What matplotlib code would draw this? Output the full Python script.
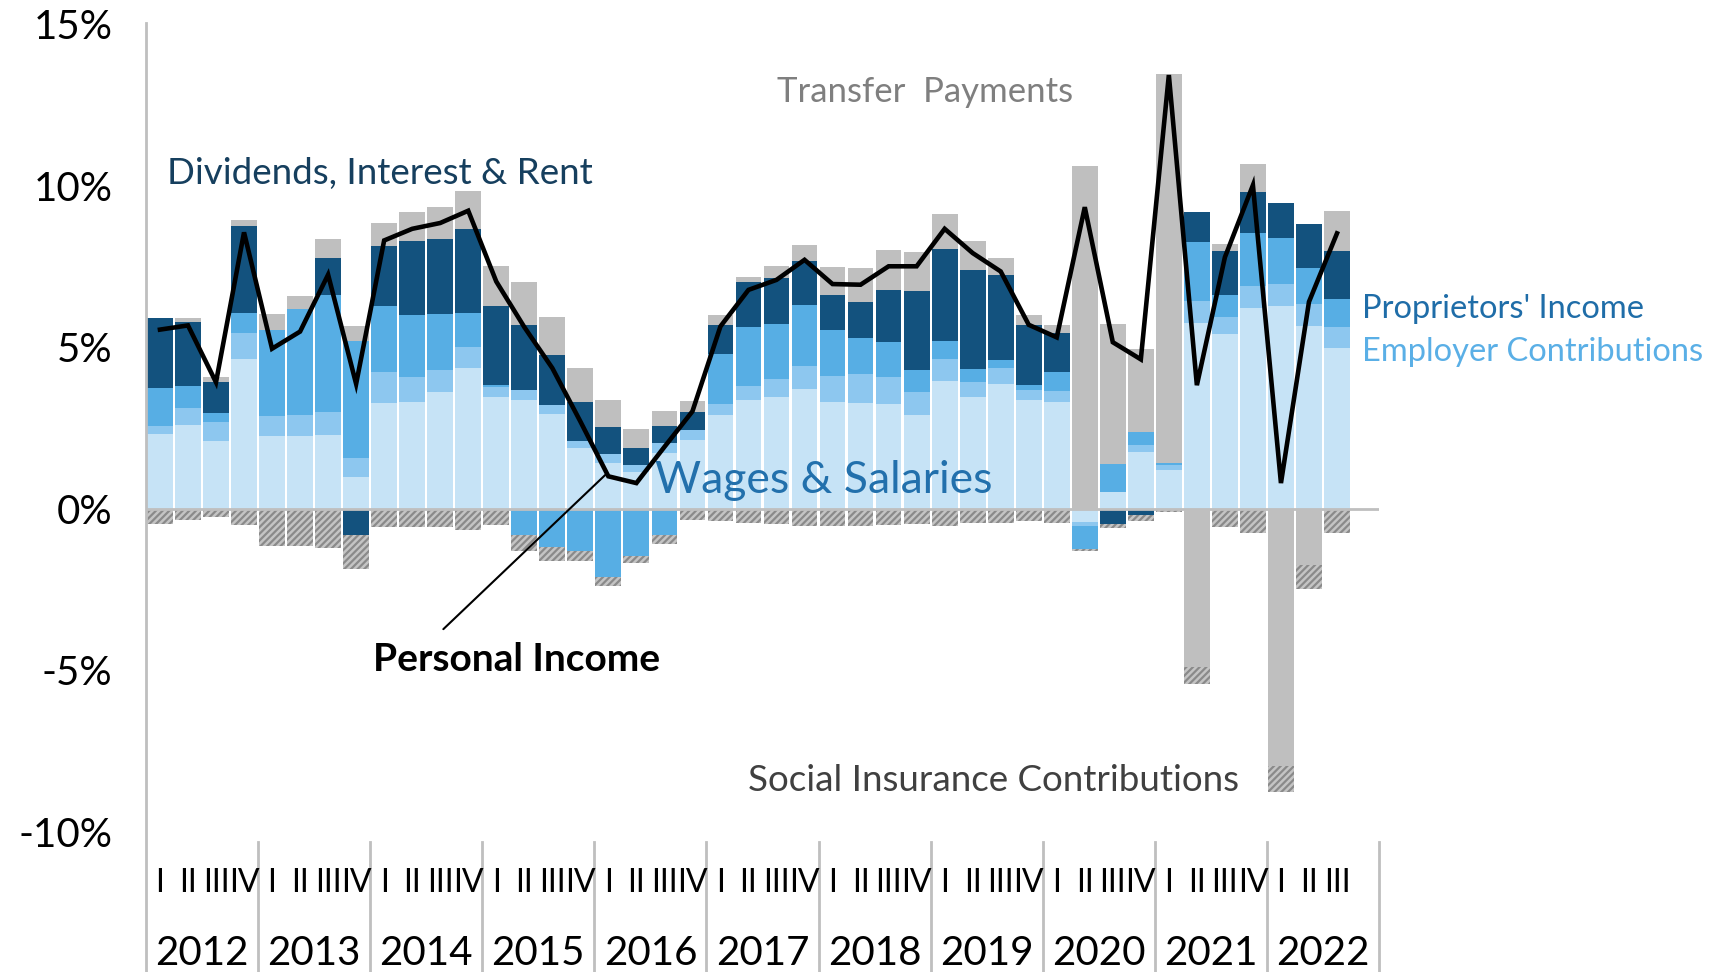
import numpy as np
import matplotlib
matplotlib.use("Agg")
import matplotlib.pyplot as plt
from matplotlib.lines import Line2D

plt.rcParams['font.family'] = ['Lato', 'DejaVu Sans']
plt.rcParams['hatch.linewidth'] = 1.6

# contribution to personal income growth (%), 2012Q1 .. 2022Q3
years = [str(y) for y in range(2012, 2023)]
quarters = ["I", "II", "III", "IV"]

wages = [2.32, 2.60, 2.10, 4.63, 2.26, 2.26, 2.28, 0.98, 3.28, 3.30, 3.63, 4.35,
         3.48, 3.38, 2.94, 1.89, 1.42, 1.14, 1.73, 2.12, 2.92, 3.38, 3.45, 3.71,
         3.31, 3.28, 3.25, 2.92, 3.95, 3.45, 3.88, 3.38, 3.32, -0.40, 0.53, 1.76,
         1.22, 5.76, 5.40, 6.23, 6.29, 5.65, 4.98]
employer = [0.24, 0.52, 0.58, 0.83, 0.63, 0.64, 0.72, 0.59, 0.96, 0.77, 0.66, 0.65,
            0.29, 0.29, 0.27, 0.20, 0.28, 0.23, 0.31, 0.31, 0.34, 0.44, 0.56, 0.70,
            0.79, 0.90, 0.82, 0.70, 0.69, 0.48, 0.48, 0.30, 0.33, -0.12, 0.0, 0.21,
            0.15, 0.69, 0.55, 0.66, 0.66, 0.68, 0.66]
proprietors = [1.18, 0.70, 0.28, 0.59, 2.64, 3.29, 3.61, 3.62, 2.03, 1.92, 1.73, 1.07,
               0.08, -0.81, -1.19, -1.29, -2.11, -1.47, -0.81, 0.0, 1.54, 1.81, 1.72, 1.91,
               1.45, 1.11, 1.09, 0.67, 0.55, 0.41, 0.24, 0.17, 0.60, -0.71, 0.87, 0.41,
               0.04, 1.82, 0.67, 1.65, 1.43, 1.14, 0.86]
dividends = [2.18, 1.98, 0.96, 2.72, 0.0, 0.0, 1.15, -0.81, 1.88, 2.31, 2.35, 2.58,
             2.42, 2.03, 1.54, 1.21, 0.84, 0.52, 0.52, 0.57, 0.90, 1.38, 1.41, 1.34,
             1.08, 1.11, 1.62, 2.44, 2.86, 3.06, 2.65, 1.85, 1.20, 0.0, -0.48, -0.18,
             0.0, 0.93, 1.36, 1.26, 1.09, 1.36, 1.47]
transfers = [0.0, 0.10, 0.15, 0.18, 0.50, 0.39, 0.58, 0.48, 0.71, 0.89, 0.98, 1.20,
             1.24, 1.31, 1.18, 1.06, 0.82, 0.59, 0.48, 0.33, 0.29, 0.18, 0.39, 0.52,
             0.86, 1.07, 1.22, 1.21, 1.09, 0.90, 0.51, 0.31, 0.25, 10.62, 4.31, 2.58,
             12.06, -4.89, 0.22, 0.89, -7.97, -1.73, 1.26]
social = [-0.48, -0.35, -0.25, -0.50, -1.15, -1.16, -1.20, -1.05, -0.57, -0.55, -0.57, -0.66,
          -0.50, -0.48, -0.41, -0.31, -0.26, -0.21, -0.27, -0.33, -0.37, -0.44, -0.48, -0.53,
          -0.53, -0.53, -0.50, -0.47, -0.53, -0.44, -0.44, -0.36, -0.44, -0.08, -0.12, -0.20,
          -0.10, -0.53, -0.56, -0.74, -0.78, -0.75, -0.74]
personal_income = [5.55, 5.68, 3.92, 8.56, 4.96, 5.49, 7.25, 3.87, 8.31, 8.67, 8.85, 9.23,
                   7.04, 5.63, 4.36, 2.71, 1.01, 0.80, 1.92, 3.02, 5.65, 6.78, 7.09, 7.71,
                   6.96, 6.94, 7.51, 7.51, 8.67, 7.92, 7.35, 5.70, 5.31, 9.34, 5.16, 4.63,
                   13.43, 3.83, 7.79, 10.02, 0.80, 6.41, 8.53]

n = len(wages)
x = np.arange(n)
q_labels = [quarters[i % 4] for i in range(n)]

series = [
    (wages, '#C6E3F6', None),
    (employer, '#8DC7EF', None),
    (proprietors, '#57AEE4', None),
    (dividends, '#13527E', None),
    (transfers, '#BFBFBF', None),
    (social, '#C4C4C4', '/////'),
]

fig = plt.figure(figsize=(17.21, 9.72), dpi=100)
ax = fig.add_axes([0.0848, 0.144, 0.7165, 0.831])

pos_base = np.zeros(n)
neg_base = np.zeros(n)
for vals, col, hatch in series:
    v = np.array(vals)
    base = np.where(v >= 0, pos_base, neg_base)
    if hatch:
        ax.bar(x, v, 0.92, bottom=base, color=col, edgecolor='#8A8A8A',
               hatch=hatch, linewidth=0, zorder=2)
    else:
        ax.bar(x, v, 0.92, bottom=base, color=col, linewidth=0, zorder=2)
    pos_base += np.where(v >= 0, v, 0)
    neg_base += np.where(v < 0, v, 0)

ax.axhline(0, color='#BFBFBF', lw=2, zorder=3)
ax.plot(x, personal_income, color='black', lw=3.3, zorder=4, solid_joinstyle='miter')

ax.set_xlim(-0.5, 43.5)
ax.set_ylim(-10, 15)
ax.set_yticks([-10, -5, 0, 5, 10, 15])
ax.set_yticklabels(['-10%', '-5%', '0%', '5%', '10%', '15%'], fontsize=29)
ax.tick_params(axis='y', length=0, pad=24)
ax.set_xticks([])
for s in ax.spines.values():
    s.set_visible(False)

# left rule and year separators below the axis
ax.add_line(Line2D([-0.5, -0.5], [1.002, -0.175], transform=ax.get_xaxis_transform(),
                   color='#BFBFBF', lw=2, clip_on=False))
for k in range(1, 12):
    xs = -0.5 + 4 * k
    ax.add_line(Line2D([xs, xs], [-0.012, -0.175], transform=ax.get_xaxis_transform(),
                       color='#BFBFBF', lw=2, clip_on=False))

xt = ax.get_xaxis_transform()
for i, q in enumerate(q_labels):
    ax.text(i, -0.074, q, transform=xt, ha='center', va='baseline', fontsize=23)
for k, yr in enumerate(years):
    ax.text(4 * k + 1.5, -0.165, yr, transform=xt, ha='center', va='baseline', fontsize=29)

ax.text(27.3, 12.6, "Transfer  Payments", color='#7F7F7F', fontsize=25,
        ha='center', va='baseline')
ax.text(0.26, 10.06, "Dividends, Interest & Rent", color='#163F5E', fontsize=26.5,
        ha='left', va='baseline')
ax.text(42.9, 5.91, "Proprietors' Income", color='#1F6DA8', fontsize=23.5,
        ha='left', va='baseline', clip_on=False)
ax.text(42.9, 4.58, "Employer Contributions", color='#5AAFE6', fontsize=23.5,
        ha='left', va='baseline', clip_on=False)
ax.text(17.67, 0.5, "Wages & Salaries", color='#2270AC', fontsize=32,
        ha='left', va='baseline')
ax.text(21.0, -8.73, "Social Insurance Contributions", color='#404040', fontsize=26.5,
        ha='left', va='baseline')
ax.text(7.6, -5.02, "Personal Income", color='black', fontsize=28, fontweight='bold',
        ha='left', va='baseline')
ax.annotate("", xy=(15.96, 1.11), xytext=(10.04, -3.78),
            arrowprops=dict(arrowstyle='-', color='black', lw=1.5))

fig.savefig("out.png", dpi=100)
